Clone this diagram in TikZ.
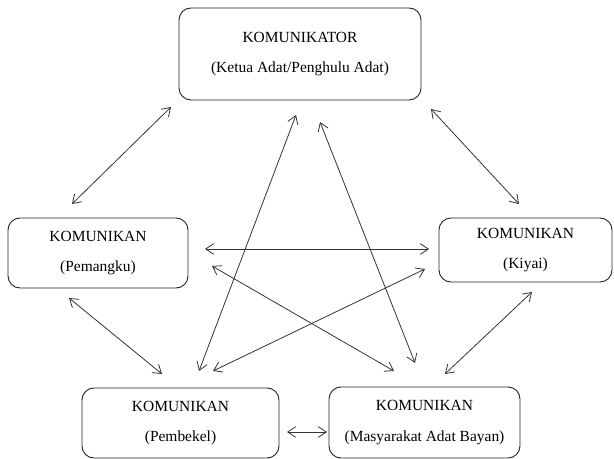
\documentclass[tikz,border=0pt]{standalone}
\usepackage{fontspec}
\setmainfont{Liberation Serif}
\newfontfamily\tnr{Liberation Serif}
\usetikzlibrary{arrows.meta}
\begin{document}
\begin{tikzpicture}[x=0.75pt,y=-0.75pt,
  box/.style={draw=black!85,line width=0.7pt,rounded corners=9pt,inner sep=0pt,
    align=center,font=\tnr\fontsize{11.6}{23}\selectfont},
  link/.style={draw=black!80,line width=0.6pt,{Straight Barb[length=6pt,width=8pt]}-{Straight Barb[length=6pt,width=8pt]}}]
\useasboundingbox (0,0) rectangle (614,459);
\node[box,minimum width=181.5pt,minimum height=69pt] (top) at (300,54) {KOMUNIKATOR\\(Ketua Adat/Penghulu Adat)};
\node[box,minimum width=135pt,minimum height=52.5pt] (pem) at (98,253) {KOMUNIKAN\\(Pemangku)};
\node[box,minimum width=129.75pt,minimum height=48pt] (kiy) at (525.5,250) {KOMUNIKAN\\(Kiyai)};
\node[box,minimum width=147.75pt,minimum height=52.5pt] (pbk) at (180.5,423) {KOMUNIKAN\\(Pembekel)};
\node[box,minimum width=143.25pt,minimum height=53.25pt] (mas) at (424.5,422.5) {KOMUNIKAN\\(Masyarakat Adat Bayan)};
% arrow end points
\coordinate (a1s) at (171,107); \coordinate (a1e) at (72,204);
\coordinate (a2s) at (431,109); \coordinate (a2e) at (519,204);
\coordinate (a3s) at (69,298);  \coordinate (a3e) at (162,374);
\coordinate (a4s) at (532,292); \coordinate (a4e) at (445,374);
\coordinate (a5s) at (205,249); \coordinate (a5e) at (429,249);
\coordinate (a6s) at (212,266); \coordinate (a6e) at (394,371);
\coordinate (a7s) at (425,269); \coordinate (a7e) at (213,371);
\coordinate (a8s) at (296,115); \coordinate (a8e) at (199,371);
\coordinate (a9s) at (320,122); \coordinate (a9e) at (415,363);
\coordinate (a10s) at (287,432); \coordinate (a10e) at (327,432);
\foreach \i in {1,...,10} {\draw[link] (a\i s) -- (a\i e);}
\end{tikzpicture}
\end{document}
